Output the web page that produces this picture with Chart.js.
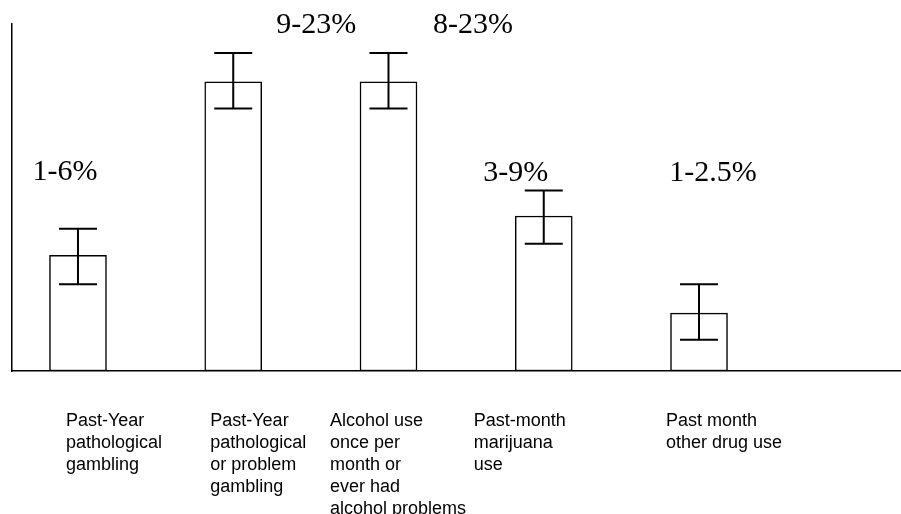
<!DOCTYPE html>
<html>
<head>
<meta charset="utf-8">
<script src="https://cdn.jsdelivr.net/npm/chart.js@4/dist/chart.umd.min.js"></script>
<style>
  html, body { margin: 0; padding: 0; background: #fff; }
  #wrap { width: 901px; height: 514px; position: relative; }
</style>
</head>
<body>
<div id="wrap"><canvas id="chart"></canvas></div>
<script>
// Data
const categories = [
    ["Past-Year", "pathological", "gambling"],
    ["Past-Year", "pathological", "or problem", "gambling"],
    ["Alcohol use", "once per", "month or", "ever had", "alcohol problems"],
    ["Past-month", "marijuana", "use"],
    ["Past month", "other drug use"]
];
const values = [10, 25, 25, 13.4, 5];
const errLow = [7.5, 22.7, 22.7, 11, 2.7];
const errHigh = [12.3, 27.5, 27.5, 15.6, 7.5];
const rangeLabels = ["1-6%", "9-23%", "8-23%", "3-9%", "1-2.5%"];

// where the free-floating texts sit, in px from the bar centre
const rangeShift = [[-13, -49], [83, -20], [84.5, -20], [-28, -10], [14, -103]];
const catShift = [-12, -23, -58.5, -70, -33];

// Error bars and text drawn on top of the bars
const extrasPlugin = {
    id: 'extras',
    afterDatasetsDraw(chart) {
        const c = chart.ctx;
        const x = chart.scales.x;
        const y = chart.scales.y;
        c.save();
        c.strokeStyle = '#000';
        c.lineWidth = 2;
        values.forEach((v, i) => {
            const cx = x.getPixelForValue(i);
            const top = y.getPixelForValue(errHigh[i]);
            const bot = y.getPixelForValue(errLow[i]);
            c.beginPath();
            c.moveTo(cx, top); c.lineTo(cx, bot);
            c.moveTo(cx - 19, top); c.lineTo(cx + 19, top);
            c.moveTo(cx - 19, bot); c.lineTo(cx + 19, bot);
            c.stroke();

            // range text above
            c.fillStyle = '#000';
            c.font = '30px "Liberation Serif", "Times New Roman", serif';
            c.textAlign = 'center';
            c.textBaseline = 'alphabetic';
            c.fillText(rangeLabels[i], cx + rangeShift[i][0], top + rangeShift[i][1]);

            // category text below the axis
            c.font = '18px "Liberation Sans", Arial, sans-serif';
            c.textAlign = 'left';
            const base = y.getPixelForValue(0);
            categories[i].forEach((line, k) => {
                c.fillText(line, cx + catShift[i], base + 55 + k * 22);
            });
        });
        c.restore();
    }
};

const ctx = document.getElementById("chart").getContext("2d");
const chart = new Chart(ctx, {
    type: 'bar',
    data: {
        datasets: [{
            data: values.map((v, i) => ({ x: i, y: v })),
            backgroundColor: '#fff',
            borderColor: '#000',
            borderWidth: 1.5,
            borderSkipped: false,
            barThickness: 57
        }]
    },
    options: {
        responsive: true,
        maintainAspectRatio: false,
        animation: false,
        layout: { padding: { left: 12, top: 24, bottom: 143, right: 0 } },
        plugins: { legend: { display: false }, tooltip: { enabled: false } },
        scales: {
            x: {
                type: 'linear',
                offset: false,
                min: -0.425,
                max: 5.301,
                grid: { display: false, drawTicks: false },
                ticks: { display: false },
                border: { display: true, color: '#000', width: 1.5 }
            },
            y: {
                min: 0,
                max: 30,
                grid: { display: false, drawTicks: false },
                ticks: { display: false },
                border: { display: true, color: '#000', width: 1.5 }
            }
        }
    },
    plugins: [extrasPlugin]
});
</script>
</body>
</html>
